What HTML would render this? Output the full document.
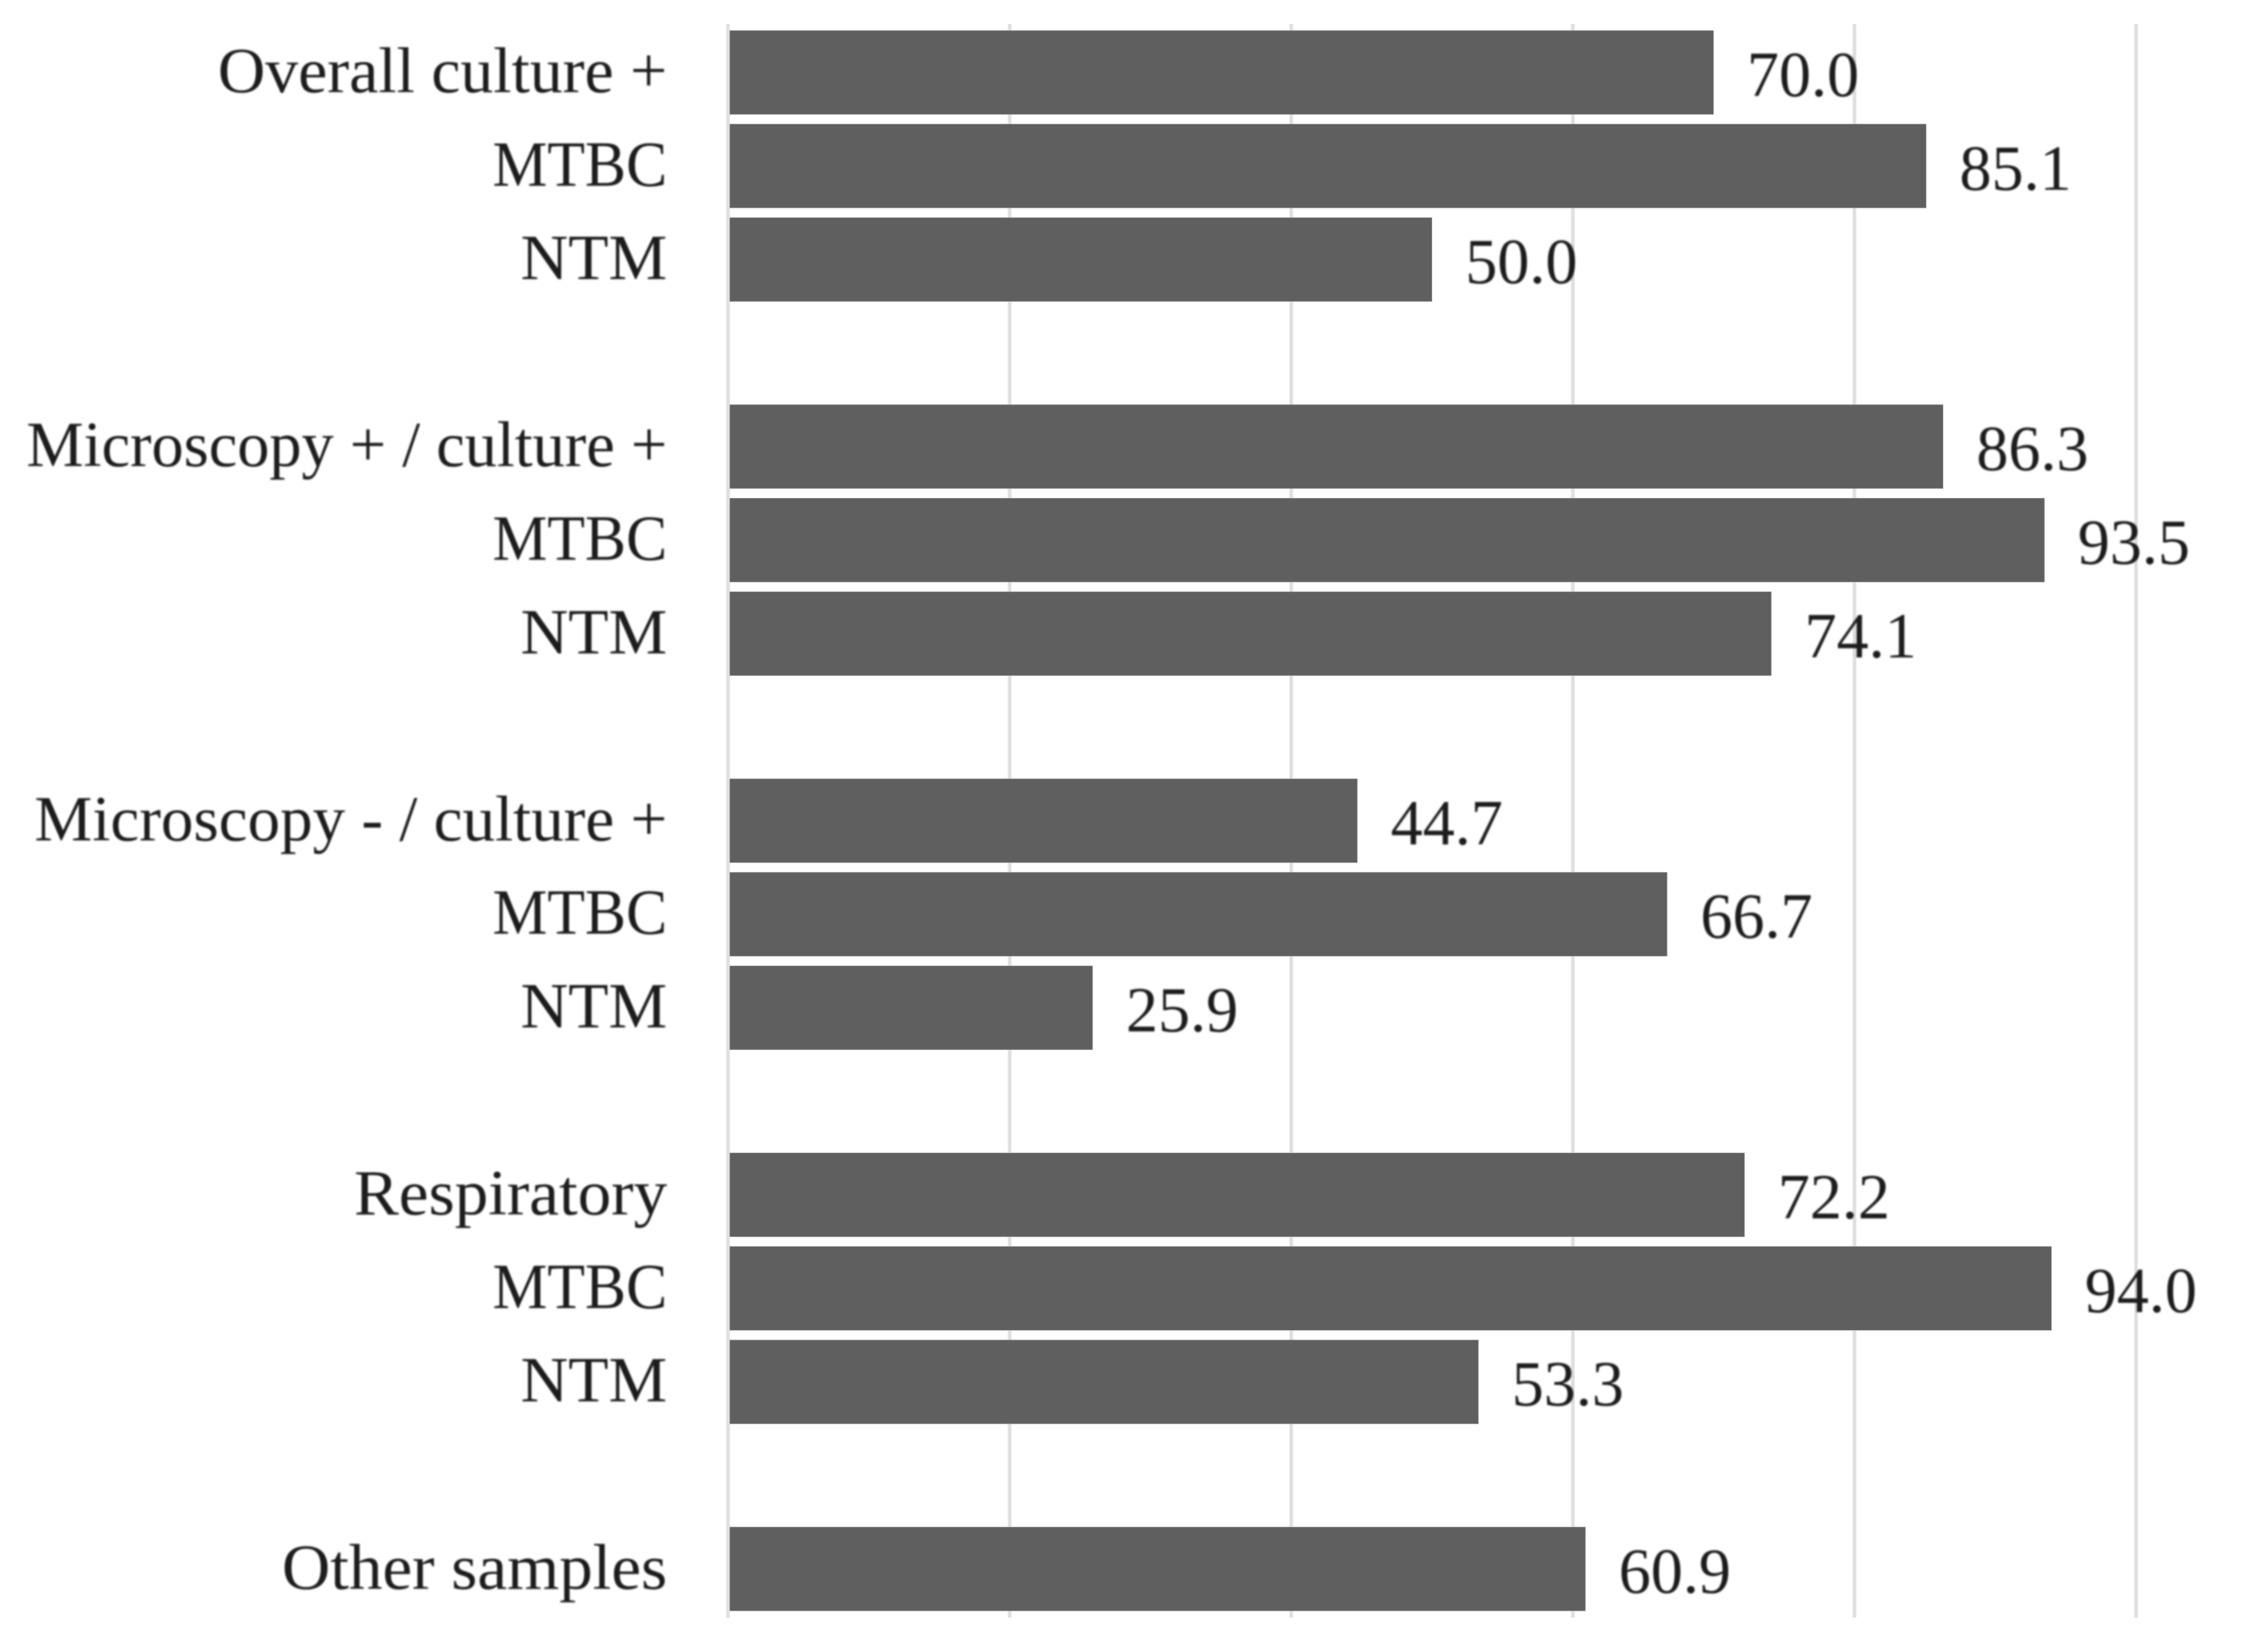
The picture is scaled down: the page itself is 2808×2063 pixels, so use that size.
<!DOCTYPE html>
<html lang="en">
<head>
<meta charset="utf-8">
<title>Horizontal bar chart of positivity by sample group</title>
<style>
html,body{margin:0;padding:0;background:#fff;width:2808px;height:2063px;overflow:hidden}
svg{display:block}
text{font-family:"Liberation Serif","DejaVu Serif",serif;fill:#1c1c1c}
</style>
</head>
<body>
<svg id="chart" width="2808" height="2063" viewBox="0 0 2808 2063" xmlns="http://www.w3.org/2000/svg"></svg>
<script>
const categories = ["Overall culture +","MTBC","NTM","","Microscopy + / culture +","MTBC","NTM","","Microscopy - / culture +","MTBC","NTM","","Respiratory","MTBC","NTM","","Other samples"];
const values = [70.0,85.1,50.0,null,86.3,93.5,74.1,null,44.7,66.7,25.9,null,72.2,94.0,53.3,null,60.9];
const gridTicks = [0,20,40,60,80,100];

const svg = document.getElementById('chart');
const NS = 'http://www.w3.org/2000/svg';
function xScale(v){ return 909 + 17.58 * v; }
function yScale(i){ return 90.5 + 116.8 * i; }
const barHeight = 105;
const fontSize = 80;
function labelFit(text){
  if (text === 'Overall culture +') return 561;
  if (text === 'MTBC') return 218;
  if (text === 'NTM') return 183;
  if (text === 'Microscopy + / culture +') return 800;
  if (text === 'Microscopy - / culture +') return 790;
  if (text === 'Respiratory') return 391;
  return 481;
}

function make(tag, attrs, parent){
  const el = document.createElementNS(NS, tag);
  for (const k in attrs) el.setAttribute(k, attrs[k]);
  parent.appendChild(el);
  return el;
}

const soft = make('filter', {id:'soft', x:'-5%', y:'-5%', width:'110%', height:'110%'}, make('defs', {}, svg));
make('feGaussianBlur', {stdDeviation:'1'}, soft);

const gridGroup = make('g', {}, svg);


gridTicks.forEach(function(t){
  const line = make('line', {x1:xScale(t), x2:xScale(t), y1:30, y2:2020, stroke:'#e0e0e0', 'stroke-width':4.5}, gridGroup);
  
  
});

const barGroup = make('g', {}, svg);


const labelGroup = make('g', {filter:'url(#soft)'}, svg);


const valueGroup = make('g', {filter:'url(#soft)'}, svg);



categories.forEach(function(cat, i){
  const v = values[i];
  if (v === null) return;
  const cy = yScale(i);
  const key = cat.toLowerCase().replace(/[^a-z]+/g, '-').replace(/^-|-$/g, '') + '-' + i;

  const bar = make('rect', {x:xScale(0) + 2, y:cy - barHeight / 2, width:xScale(v) - xScale(0) - 2, height:barHeight, fill:'#5f5f5f', stroke:'#c8c8c8', 'stroke-width':0.8, 'stroke-opacity':0.6}, barGroup);
  
  

  const label = make('text', {x:833, y:cy + 24.5, 'text-anchor':'end', 'font-size':fontSize, textLength:labelFit(cat), lengthAdjust:'spacingAndGlyphs'}, labelGroup);
  label.textContent = cat;
  
  

  const val = make('text', {x:xScale(v) + 41.5, y:cy + 29.5, 'font-size':fontSize}, valueGroup);
  val.textContent = v.toFixed(1);
  
  
});
</script>
</body>
</html>
